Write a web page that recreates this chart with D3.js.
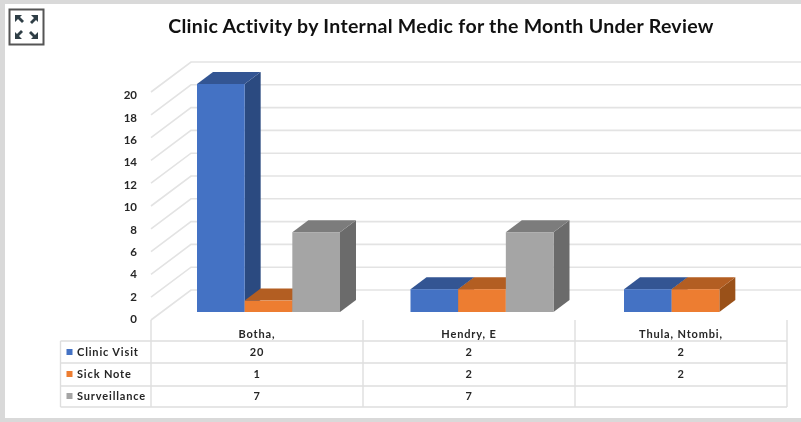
<!DOCTYPE html>
<html>
<head>
<meta charset="utf-8">
<script src="https://cdn.jsdelivr.net/npm/d3@7"></script>
<style>
html, body { margin: 0; padding: 0; background: #d9d9d9; }
svg { display: block; filter: blur(0.5px); }
text { font-family: Lato, "Noto Sans", sans-serif; }
</style>
</head>
<body>
<div id="chart"></div>
<script>
var chartTitle = "Clinic Activity by Internal Medic for the Month Under Review"
var medics = ["Botha,", "Hendry, E", "Thula, Ntombi,"]
var seriesNames = ["Clinic Visit", "Sick Note", "Surveillance"]
var clinicVisit = [20, 2, 2]
var sickNote = [1, 2, 2]
var surveillance = [7, 7, null]
var yTicks = [0, 2, 4, 6, 8, 10, 12, 14, 16, 18, 20]

var frontColors = ["#4472c4", "#ed7d31", "#a5a5a5"]
var topColors = ["#335593", "#b35e22", "#7c7c7c"]
var sideColors = ["#2b4a80", "#9a5119", "#6b6b6b"]

var width = 801, height = 422
var allSeries = [clinicVisit, sickNote, surveillance]

var svg = d3.select("#chart").append("svg")
	.attr("width", width)
	.attr("height", height)

// white panel on the grey window
svg.append("rect")
	.attr("x", 5).attr("y", 4)
	.attr("width", width - 5).attr("height", 414)
	.attr("fill", "white")

svg.append("text")
	.attr("x", 441).attr("y", 33)
	.attr("text-anchor", "middle")
	.style("font-size", "19.5px")
	.style("letter-spacing", "0.3px")
	.style("font-weight", "700")
	.style("fill", "#111")
	.text(chartTitle)

// expand icon in the corner
var icon = svg.append("g").attr("transform", "translate(9,9)")
icon.append("rect")
	.attr("x", 0.5).attr("y", 0.5)
	.attr("width", 34).attr("height", 35)
	.attr("fill", "white").attr("stroke", "#555").attr("stroke-width", 2)
var arrow = "M0,0 L7,0 L5,2 L9,6 L7,8 L3,4 L0,7 Z"
var arrows = [[6, 6, 0], [29, 6, 90], [29, 30, 180], [6, 30, 270]]
arrows.forEach(function(a) {
	icon.append("path")
		.attr("d", arrow)
		.attr("fill", "#2f3e46")
		.attr("transform", "translate(" + a[0] + "," + a[1] + ") rotate(" + a[2] + ")")
})

// table bands, the bars sit on a slightly wider step because of the 3d view
var tableLeft = 60.5, tableX0 = 151, tableX1 = 787
var x = d3.scaleBand().domain(medics).range([tableX0, tableX1])
var xPlot = d3.scaleBand().domain(medics).range([tableX0, tableX0 + 640.5])
var xSeries = d3.scaleBand().domain(seriesNames).range([46, 189])
var h = d3.scaleLinear().domain([0, 20]).range([0, 228])

var floorFront = 320, wallDx = 40, wallDy = 30
var barBase = 312, barDx = 16, barDy = 12

// gridlines, wall and floor edge
var gridColor = "#e3e3e3"
var grid = svg.append("g")
	.attr("fill", "none")
	.attr("stroke", gridColor)
	.attr("stroke-width", 1.6)
grid.selectAll("path")
	.data(yTicks)
	.enter()
	.append("path")
		.attr("d", function(d) {
			var y = floorFront - h(d)
			return "M" + tableX0 + "," + y + " L" + (tableX0 + wallDx) + "," + (y - wallDy) + " L" + width + "," + (y - wallDy)
		})

// y axis labels
var yAxisScale = d3.scaleLinear().domain([0, 20]).range([floorFront - 1, 95])
var yAxis = svg.append("g")
	.attr("transform", "translate(137,0)")
	.call(d3.axisLeft(yAxisScale).tickValues(yTicks).tickSize(0).tickPadding(0))
yAxis.select(".domain").remove()
yAxis.selectAll("text")
	.style("font-family", "Lato, 'Noto Sans', sans-serif")
	.style("font-size", "11.5px")
	.style("font-weight", "700")
	.style("fill", "#262626")

// bars, left to right so that later ones cover the earlier sides
medics.forEach(function(medic, i) {
	seriesNames.forEach(function(name, s) {
		var v = allSeries[s][i]
		if (v === null) return
		var x0 = xPlot(medic) + xSeries(name)
		var w = xSeries.bandwidth()
		var top = barBase - h(v)
		var g = svg.append("g")
		g.append("path")
			.attr("d", "M" + (x0 + w) + "," + top + " L" + (x0 + w + barDx) + "," + (top - barDy) + " L" + (x0 + w + barDx) + "," + (barBase - barDy) + " L" + (x0 + w) + "," + barBase + " Z")
			.attr("fill", sideColors[s])
		g.append("path")
			.attr("d", "M" + x0 + "," + top + " L" + (x0 + barDx) + "," + (top - barDy) + " L" + (x0 + w + barDx) + "," + (top - barDy) + " L" + (x0 + w) + "," + top + " Z")
			.attr("fill", topColors[s])
		g.append("rect")
			.attr("x", x0).attr("y", top)
			.attr("width", w).attr("height", h(v))
			.attr("fill", frontColors[s])
	})
})

// data table
var rowLines = [341, 363, 386, 407]
var table = svg.append("g")
	.attr("stroke", "#dedede")
	.attr("stroke-width", 1.4)
rowLines.forEach(function(y) {
	table.append("line")
		.attr("x1", tableLeft).attr("x2", tableX1)
		.attr("y1", y).attr("y2", y)
})
table.append("line")
	.attr("x1", tableLeft).attr("x2", tableLeft)
	.attr("y1", rowLines[0]).attr("y2", rowLines[3])
x.domain().concat([null]).forEach(function(m) {
	var xx = m === null ? tableX1 : x(m)
	table.append("line")
		.attr("x1", xx).attr("x2", xx)
		.attr("y1", floorFront).attr("y2", rowLines[3])
})

function cellText(xx, y, str, anchor) {
	svg.append("text")
		.attr("x", xx).attr("y", y)
		.attr("text-anchor", anchor)
		.style("font-size", "11px")
		.style("letter-spacing", "0.85px")
		.style("font-weight", "700")
		.style("fill", "#262626")
		.text(str)
}

medics.forEach(function(medic) {
	cellText(x(medic) + x.bandwidth() / 2, 338, medic, "middle")
})

var rowText = [356, 378, 400]
var rowKey = [349, 371, 393]
seriesNames.forEach(function(name, s) {
	svg.append("rect")
		.attr("x", 66.5).attr("y", rowKey[s])
		.attr("width", 6).attr("height", 6)
		.attr("fill", frontColors[s])
	cellText(77, rowText[s], name, "start")
	medics.forEach(function(medic, i) {
		var v = allSeries[s][i]
		if (v !== null) cellText(x(medic) + x.bandwidth() / 2, rowText[s], v, "middle")
	})
})
</script>
</body>
</html>
